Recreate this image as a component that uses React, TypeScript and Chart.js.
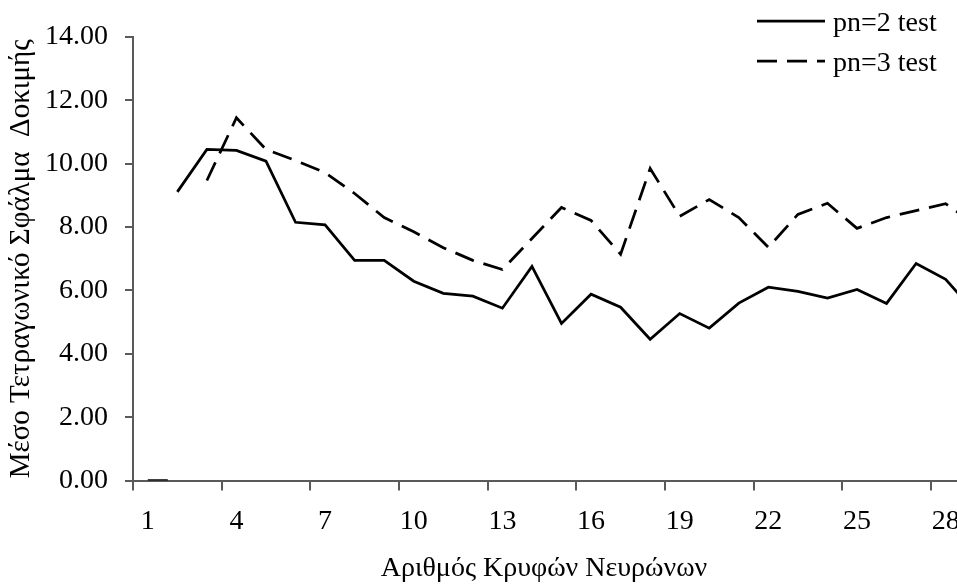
import React, { useEffect, useRef } from 'react';
import { Chart, registerables } from 'chart.js';

Chart.register(...registerables);

const categories = ['1', '2', '3', '4', '5', '6', '7', '8', '9', '10', '11', '12', '13', '14', '15', '16', '17', '18', '19', '20', '21', '22', '23', '24', '25', '26', '27', '28', '29'];
const pn2Test = [0, 9.11, 10.45, 10.42, 10.08, 8.15, 8.07, 6.95, 6.95, 6.29, 5.91, 5.82, 5.44, 6.76, 4.96, 5.88, 5.47, 4.46, 5.27, 4.81, 5.6, 6.1, 5.97, 5.76, 6.03, 5.59, 6.85, 6.35, 5.3];
const pn3Test = [0, 0, 9.47, 11.45, 10.45, 10.1, 9.72, 9.06, 8.3, 7.85, 7.35, 6.95, 6.66, 7.64, 8.62, 8.21, 7.14, 9.85, 8.34, 8.87, 8.3, 7.36, 8.4, 8.75, 7.96, 8.3, 8.52, 8.74, 8.08];
const seriesLabels = ['pn=2 test', 'pn=3 test'];
const yMin = 0;
const yMax = 14;
const yStep = 2;
const xTitle = 'Αριθμός Κρυφών Νευρώνων';
const yTitle = 'Μέσο Τετραγωνικό Σφάλμα  Δοκιμής';

const FONT = "'Liberation Serif', 'Times New Roman', serif";
const AXIS = '#5a5a5a';

const legendPlugin = {
  id: 'stackedLegend',
  afterDraw(chart: any) {
    const ctx = chart.ctx;
    chart.data.datasets.forEach((ds: any, i: number) => {
      const y = 21 + i * 40;
      ctx.save();
      ctx.strokeStyle = ds.borderColor;
      ctx.lineWidth = ds.borderWidth;
      ctx.lineCap = 'butt';
      ctx.setLineDash(ds.borderDash || []);
      ctx.beginPath();
      ctx.moveTo(757, y);
      ctx.lineTo(825, y);
      ctx.stroke();
      ctx.setLineDash([]);
      ctx.fillStyle = '#000';
      ctx.font = `28px ${FONT}`;
      ctx.textAlign = 'left';
      ctx.textBaseline = 'alphabetic';
      ctx.fillText(ds.label, 833, y + 10);
      ctx.restore();
    });
  },
};

const gapSegment = {
  borderColor: (ctx: any) =>
    ctx.p0.parsed.y === 0 && ctx.p1.parsed.y !== 0 ? 'rgba(0,0,0,0)' : undefined,
};

export default function App() {
  const ref = useRef<HTMLCanvasElement | null>(null);

  useEffect(() => {
    if (!ref.current) return;
    const chart = new Chart(ref.current, {
      type: 'line',
      data: {
        labels: categories,
        datasets: [
          {
            label: seriesLabels[0],
            data: pn2Test,
            borderColor: '#000',
            backgroundColor: '#000',
            borderWidth: 2.75,
            pointRadius: 0,
            tension: 0,
            fill: false,
            segment: gapSegment,
          },
          {
            label: seriesLabels[1],
            data: pn3Test,
            borderColor: '#000',
            backgroundColor: '#000',
            borderWidth: 2.75,
            borderDash: [20, 10],
            pointRadius: 0,
            tension: 0,
            fill: false,
            segment: gapSegment,
          },
        ],
      },
      options: {
        responsive: false,
        animation: false,
        devicePixelRatio: 1,
        layout: { padding: { left: 0, right: 0, top: 37, bottom: 0 } },
        plugins: {
          legend: { display: false },
          tooltip: { enabled: false },
        },
        scales: {
          x: {
            type: 'category',
            offset: true,
            grid: {
              offset: true,
              drawOnChartArea: false,
              drawTicks: true,
              tickLength: 10,
              lineWidth: 2,
              color: (c: any) => (c.index !== undefined && c.index % 3 === 0 ? AXIS : 'rgba(0,0,0,0)'),
            },
            border: { display: true, color: AXIS, width: 2 },
            ticks: {
              autoSkip: false,
              maxRotation: 0,
              padding: 14,
              color: '#000',
              font: { family: FONT, size: 28 },
              callback: (_v: any, i: number) => (i % 3 === 0 ? categories[i] : ''),
            },
            title: {
              display: true,
              text: xTitle + '     ',
              color: '#000',
              font: { family: FONT, size: 28 },
              padding: { top: 0, bottom: 0 },
            },
            afterFit: (s: any) => {
              s.height = 104.5;
            },
          },
          y: {
            min: yMin,
            max: yMax,
            grid: {
              drawOnChartArea: false,
              drawTicks: true,
              tickLength: 8,
              lineWidth: 2,
              color: AXIS,
            },
            border: { display: true, color: AXIS, width: 2 },
            ticks: {
              stepSize: yStep,
              padding: 17,
              color: '#000',
              font: { family: FONT, size: 28 },
              callback: (v: any) => Number(v).toFixed(2),
            },
            title: {
              display: true,
              text: yTitle,
              color: '#000',
              font: { family: FONT, size: 29 },
              padding: { top: 4, bottom: 0 },
            },
            afterFit: (s: any) => {
              s.width = 133;
            },
          },
        },
      },
      plugins: [legendPlugin],
    });
    return () => chart.destroy();
  }, []);

  return (
    <div
      style={{
        position: 'fixed',
        left: 0,
        top: 0,
        width: 957,
        height: 585,
        overflow: 'hidden',
        background: '#fff',
      }}
    >
      <canvas ref={ref} width={990} height={585} style={{ display: 'block' }} />
    </div>
  );
}
